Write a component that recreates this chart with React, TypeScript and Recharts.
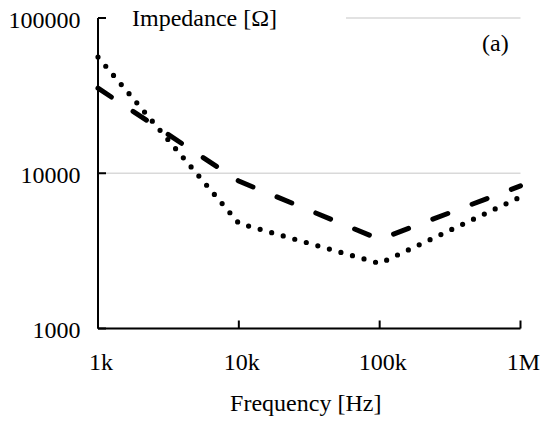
import { LineChart, Line, XAxis, YAxis, CartesianGrid } from "recharts";

// frequency points (Hz) and impedance (ohm)
const frequencies = [1000, 10000, 100000, 1000000];
const dashedImpedance = [35300, 8900, 3750, 8300];
const dottedImpedance = [56000, 4760, 2625, 7030];

const xTicks = [1000, 10000, 100000, 1000000];
const xTickLabels = ["1k", "10k", "100k", "1M"];
const yTicks = [1000, 10000, 100000];

const data = frequencies.map((f, i) => ({
  f,
  dashed: dashedImpedance[i],
  dotted: dottedImpedance[i],
}));

const font = "Times New Roman, Tinos, Liberation Serif, DejaVu Serif, serif";

const TitleBox = () => (
  <g>
    <rect x={106} y={2} width={240} height={30} fill="#fff" />
    <text x={132} y={25.5} fontFamily={font} fontSize={24} fill="#000">
      Impedance [Ω]
    </text>
    <text x={482} y={51} fontFamily={font} fontSize={24} fill="#000">
      (a)
    </text>
  </g>
);

export default function App() {
  return (
    <div style={{ position: "absolute", left: 0, top: 0, background: "#fff" }}>
      <LineChart
        width={541}
        height={422}
        data={data}
        margin={{ top: 18, right: 20.5, left: 0, bottom: 0 }}
      >
        <CartesianGrid vertical={false} stroke="#d9d9d9" strokeWidth={1.5} />
        <XAxis
          dataKey="f"
          type="number"
          scale="log"
          domain={[1000, 1000000]}
          ticks={xTicks}
          tickFormatter={(v) => xTickLabels[xTicks.indexOf(v)] ?? ""}
          height={93.5}
          tickSize={-8}
          tickMargin={32}
          axisLine={{ stroke: "#000", strokeWidth: 2 }}
          tickLine={{ stroke: "#000", strokeWidth: 2 }}
          tick={{ fontFamily: font, fontSize: 24, fill: "#000", dx: 3 }}
          interval={0}
          label={{
            value: "Frequency [Hz]",
            position: "insideBottom",
            offset: 11,
            dx: -3.5,
            fontFamily: font,
            fontSize: 24,
            fill: "#000",
          }}
        />
        <YAxis
          type="number"
          scale="log"
          domain={[1000, 100000]}
          ticks={yTicks}
          allowDataOverflow
          width={98}
          tickSize={-8}
          tickMargin={25.5}
          axisLine={{ stroke: "#000", strokeWidth: 2 }}
          tickLine={{ stroke: "#000", strokeWidth: 2 }}
          tick={{ fontFamily: font, fontSize: 24, fill: "#000", dy: 1 }}
          interval={0}
          label={{ content: () => <TitleBox /> }}
        />
        <Line
          type="linear"
          dataKey="dashed"
          stroke="#000"
          strokeWidth={5}
          strokeDasharray="16 26"
          strokeLinecap="round"
          dot={false}
          activeDot={false}
          isAnimationActive={false}
        />
        <Line
          type="linear"
          dataKey="dotted"
          stroke="#000"
          strokeWidth={5.2}
          strokeDasharray="0 12"
          strokeLinecap="round"
          dot={false}
          activeDot={false}
          isAnimationActive={false}
        />
      </LineChart>
    </div>
  );
}
